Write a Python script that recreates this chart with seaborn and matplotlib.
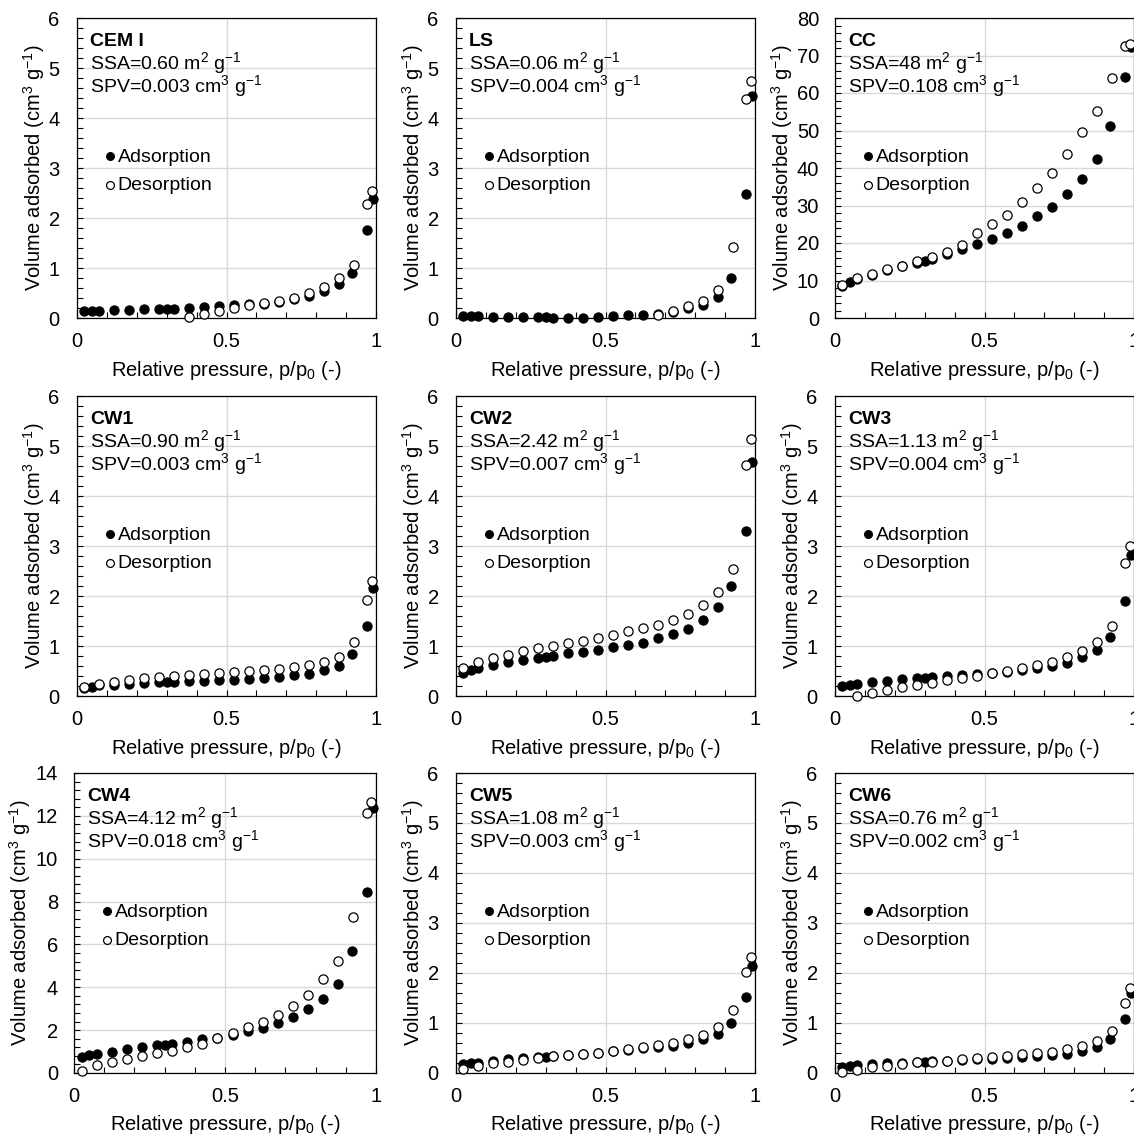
import numpy as np
import pandas as pd
import matplotlib
matplotlib.use("Agg")
import matplotlib.pyplot as plt
import seaborn as sns
from matplotlib.ticker import MultipleLocator, AutoMinorLocator, FuncFormatter

# ---------------- data ----------------
P_ADS = [0.025, 0.05, 0.075, 0.125, 0.175, 0.225, 0.275, 0.30, 0.325, 0.375, 0.425,
         0.475, 0.525, 0.575, 0.625, 0.675, 0.725, 0.775, 0.825, 0.875, 0.92, 0.97, 0.99]
P_DES = [0.025, 0.075, 0.125, 0.175, 0.225, 0.275, 0.325, 0.375, 0.425, 0.475, 0.525,
         0.575, 0.625, 0.675, 0.725, 0.775, 0.825, 0.875, 0.925, 0.97, 0.985]

CEM_ADS = [0.14, 0.14, 0.14, 0.16, 0.17, 0.18, 0.19, 0.19, 0.19, 0.20, 0.22, 0.24, 0.27,
           0.29, 0.29, 0.33, 0.38, 0.45, 0.54, 0.68, 0.91, 1.77, 2.38]
CEM_DES = [0.03, 0.09, 0.15, 0.20, 0.27, 0.30, 0.35, 0.41, 0.50, 0.62, 0.80, 1.06, 2.28, 2.54]

LS_ADS = [0.05, 0.05, 0.05, 0.03, 0.03, 0.03, 0.03, 0.02, 0.0, 0.0, 0.01, 0.03, 0.05,
          0.07, 0.07, 0.09, 0.12, 0.20, 0.27, 0.43, 0.81, 2.49, 4.45]
LS_DES = [0.07, 0.14, 0.24, 0.35, 0.57, 1.43, 4.39, 4.74]

CC_ADS = [8.6, 9.7, 10.5, 11.6, 12.8, 13.8, 14.8, 15.3, 15.8, 17.0, 18.3, 19.8, 21.2,
          22.6, 24.5, 27.3, 29.7, 33.0, 37.0, 42.3, 51.1, 64.2, 72.2]
CC_DES = [8.7, 10.6, 11.8, 13.0, 14.0, 15.2, 16.4, 17.7, 19.5, 22.6, 25.1, 27.6, 30.9,
          34.6, 38.8, 43.8, 49.5, 55.3, 64.0, 72.5, 73.2]

CW1_ADS = [0.17, 0.19, 0.22, 0.22, 0.25, 0.27, 0.28, 0.28, 0.28, 0.30, 0.30, 0.32, 0.32,
           0.35, 0.37, 0.39, 0.42, 0.45, 0.52, 0.61, 0.85, 1.40, 2.17]
CW1_DES = [0.18, 0.25, 0.29, 0.33, 0.37, 0.39, 0.41, 0.43, 0.45, 0.47, 0.49, 0.51, 0.53,
           0.55, 0.58, 0.62, 0.68, 0.79, 1.08, 1.92, 2.30]

CW2_ADS = [0.47, 0.53, 0.57, 0.63, 0.68, 0.73, 0.77, 0.78, 0.81, 0.86, 0.88, 0.93, 0.98,
           1.03, 1.07, 1.17, 1.25, 1.35, 1.53, 1.78, 2.21, 3.30, 4.68]
CW2_DES = [0.57, 0.68, 0.77, 0.83, 0.90, 0.96, 1.01, 1.07, 1.11, 1.17, 1.23, 1.31, 1.36,
           1.43, 1.53, 1.65, 1.83, 2.09, 2.55, 4.61, 5.13]

CW3_ADS = [0.20, 0.23, 0.25, 0.28, 0.31, 0.35, 0.37, 0.37, 0.38, 0.40, 0.43, 0.45, 0.47,
           0.49, 0.53, 0.57, 0.60, 0.66, 0.78, 0.93, 1.19, 1.91, 2.83]
CW3_DES = [0.01, 0.07, 0.13, 0.18, 0.23, 0.27, 0.33, 0.37, 0.41, 0.47, 0.51, 0.57, 0.63,
           0.69, 0.78, 0.90, 1.09, 1.40, 2.67, 3.01]

CW4_ADS = [0.74, 0.82, 0.88, 1.00, 1.12, 1.21, 1.29, 1.32, 1.35, 1.47, 1.58, 1.65, 1.78,
           1.94, 2.09, 2.33, 2.60, 2.98, 3.46, 4.16, 5.71, 8.45, 12.36]
CW4_DES = [0.11, 0.39, 0.51, 0.67, 0.81, 0.93, 1.05, 1.21, 1.36, 1.63, 1.89, 2.14, 2.40,
           2.71, 3.13, 3.64, 4.39, 5.22, 7.26, 12.14, 12.64]

CW5_ADS = [0.19, 0.20, 0.21, 0.25, 0.28, 0.31, 0.32, 0.33, 0.34, 0.36, 0.39, 0.41, 0.44,
           0.46, 0.50, 0.52, 0.55, 0.60, 0.68, 0.79, 1.01, 1.52, 2.15]
CW5_DES = [0.08, 0.15, 0.20, 0.23, 0.27, 0.30, 0.35, 0.37, 0.39, 0.41, 0.45, 0.49, 0.52,
           0.57, 0.61, 0.68, 0.77, 0.92, 1.27, 2.02, 2.33]

CW6_ADS = [0.13, 0.15, 0.17, 0.19, 0.20, 0.21, 0.22, 0.23, 0.24, 0.25, 0.26, 0.28, 0.29,
           0.30, 0.33, 0.35, 0.37, 0.39, 0.45, 0.52, 0.68, 1.08, 1.60]
CW6_DES = [0.02, 0.07, 0.12, 0.15, 0.19, 0.22, 0.23, 0.25, 0.28, 0.30, 0.32, 0.35, 0.38,
           0.40, 0.43, 0.48, 0.55, 0.65, 0.85, 1.40, 1.71]

SAMPLES = ["CEM I", "LS", "CC", "CW1", "CW2", "CW3", "CW4", "CW5", "CW6"]
SSA = ["0.60", "0.06", "48", "0.90", "2.42", "1.13", "4.12", "1.08", "0.76"]
SPV = ["0.003", "0.004", "0.108", "0.003", "0.007", "0.004", "0.018", "0.003", "0.002"]
ADS = [CEM_ADS, LS_ADS, CC_ADS, CW1_ADS, CW2_ADS, CW3_ADS, CW4_ADS, CW5_ADS, CW6_ADS]
DES = [CEM_DES, LS_DES, CC_DES, CW1_DES, CW2_DES, CW3_DES, CW4_DES, CW5_DES, CW6_DES]
YMAX = [6, 6, 80, 6, 6, 6, 14, 6, 6]
YSTEP = [1, 1, 10, 1, 1, 1, 2, 1, 1]

# ---------------- style ----------------
sns.set_theme(style="white")
plt.rcParams["font.family"] = ["Liberation Sans", "DejaVu Sans"]
plt.rcParams["mathtext.fontset"] = "custom"
plt.rcParams["mathtext.rm"] = "Liberation Sans"
plt.rcParams["mathtext.it"] = "Liberation Sans:italic"
plt.rcParams["mathtext.bf"] = "Liberation Sans:bold"
plt.rcParams["text.color"] = "black"
plt.rcParams["axes.labelcolor"] = "black"
plt.rcParams["xtick.color"] = "black"
plt.rcParams["ytick.color"] = "black"

W, H = 1134, 1138
fig = plt.figure(figsize=(W / 100, H / 100), dpi=100)
fig.patch.set_facecolor("white")

LEFTS = [77, 456, 835]
TOPS = [18, 396, 773]
AX_W, AX_H = 299, 300

FS = 14.5
for i, name in enumerate(SAMPLES):
    r, c = divmod(i, 3)
    wide_ticks = YMAX[i] >= 10
    left = LEFTS[c] - (3 if name == "CW4" else 0)
    width = AX_W + (3 if name == "CW4" else 0)
    ax = fig.add_axes([left / W, (H - TOPS[r] - AX_H) / H, width / W, AX_H / H])
    ads_y = ADS[i]
    des_y = DES[i]
    df_a = pd.DataFrame({"p": P_ADS, "v": ads_y})
    df_d = pd.DataFrame({"p": P_DES[-len(des_y):], "v": des_y})

    sns.scatterplot(data=df_a, x="p", y="v", ax=ax, s=44, color="black",
                    edgecolor="black", linewidth=0.8, label="Adsorption",
                    clip_on=False, zorder=3)
    sns.scatterplot(data=df_d, x="p", y="v", ax=ax, s=44, color="white",
                    edgecolor="black", linewidth=0.9, label="Desorption",
                    clip_on=False, zorder=4)

    ax.set_xlim(0, 1)
    ax.set_ylim(0, YMAX[i])
    ax.xaxis.set_major_locator(MultipleLocator(0.5))
    ax.xaxis.set_minor_locator(AutoMinorLocator(5))
    ax.yaxis.set_major_locator(MultipleLocator(YSTEP[i]))
    ax.yaxis.set_minor_locator(AutoMinorLocator(5))
    ax.xaxis.set_major_formatter(FuncFormatter(lambda v, p: f"{v:g}"))
    ax.yaxis.set_major_formatter(FuncFormatter(lambda v, p: f"{v:g}"))

    ax.grid(True, which="major", color="#d9d9d9", linewidth=1.0, zorder=0)
    ax.set_axisbelow(True)
    for sp in ax.spines.values():
        sp.set_visible(True)
        sp.set_color("black")
        sp.set_linewidth(0.9)
    ax.tick_params(axis="both", which="both", direction="in", color="black",
                   labelsize=FS, labelcolor="black")
    ax.tick_params(axis="x", which="both", bottom=True, top=False, pad=10)
    ax.tick_params(axis="y", which="both", left=True, right=False,
                   pad=11.5 if wide_ticks else 12.5)
    ax.tick_params(which="major", length=4, width=0.8)
    ax.tick_params(which="minor", length=4, width=0.8)

    ax.set_xlabel(r"Relative pressure, p/p$_{\mathregular{0}}$ (-)", fontsize=FS, color="black")
    ax.set_ylabel(r"Volume adsorbed (cm$^{\mathregular{3}}$ g$^{\mathregular{-1}}$)",
                  fontsize=FS, color="black")
    ax.xaxis.set_label_coords(0.5, -0.135)
    ax.yaxis.set_label_coords(-0.135 if wide_ticks else -0.10, 0.5)

    ax.text(0.043, 0.923, name, transform=ax.transAxes, fontsize=14, fontweight="bold",
            va="center", ha="left", color="black")
    ax.text(0.043, 0.85, f"SSA={SSA[i]} m$^{{\\mathregular{{2}}}}$ g$^{{\\mathregular{{-1}}}}$",
            transform=ax.transAxes, fontsize=14, va="center", ha="left", color="black")
    ax.text(0.043, 0.772, f"SPV={SPV[i]} cm$^{{\\mathregular{{3}}}}$ g$^{{\\mathregular{{-1}}}}$",
            transform=ax.transAxes, fontsize=14, va="center", ha="left", color="black")

    leg = ax.legend(loc="upper left", bbox_to_anchor=(0.09, 0.567), frameon=False,
                    fontsize=14, handlelength=0.6, handletextpad=0.1, borderpad=0,
                    borderaxespad=0, labelspacing=0.55, markerscale=0.85)
    for t in leg.get_texts():
        t.set_color("black")

fig.savefig("out.png", dpi=100, facecolor="white")
